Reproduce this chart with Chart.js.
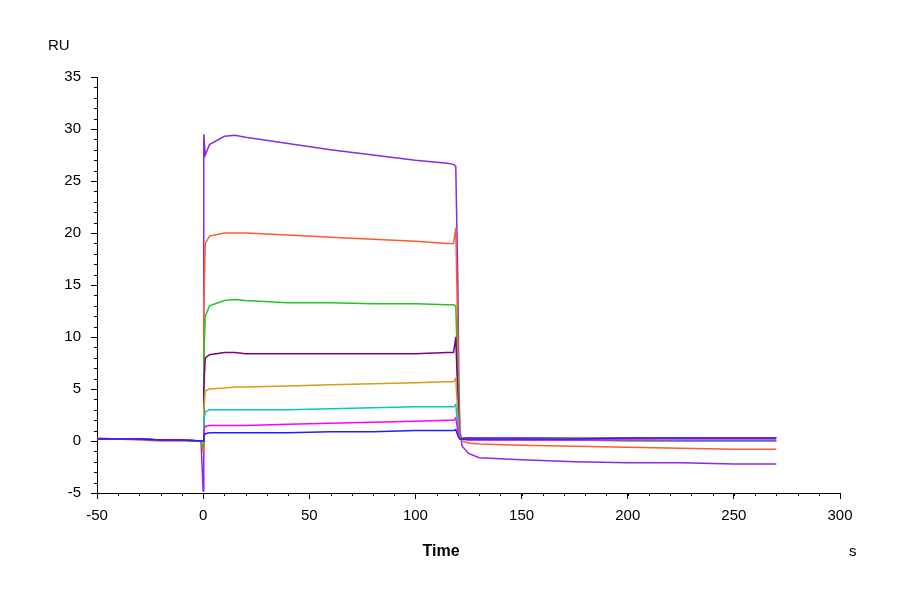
<!DOCTYPE html>
<html><head><meta charset="utf-8">
<script src="https://cdn.jsdelivr.net/npm/chart.js@4"></script>
<style>html,body{margin:0;padding:0;background:#fff}#w{width:900px;height:600px}</style>
</head><body><div id="w"><canvas id="c"></canvas></div>
<script>
const times = [-50,-40,-30,-20,-10,-1,0,0.3,1,3,10,15,20,40,60,80,100,115,118,119,120,120.5,121,122,125,130,150,175,200,225,250,270];
const pre = [0.2,0.2,0.2,0.1,0.1,0];
const purple = [...pre,-4.8,29.5,27.5,28.5,29.3,29.4,29.2,28.6,28,27.5,27,26.7,26.6,26.4,15,5,1,-0.5,-1.2,-1.6,-1.8,-2,-2.1,-2.1,-2.2,-2.2];
const orange = [0.3,0.2,0.1,0,0,0,-1,13,19,19.7,20,20,20,19.8,19.6,19.4,19.2,19,19,20.5,10,2,0.5,0,-0.2,-0.3,-0.4,-0.5,-0.6,-0.7,-0.8,-0.8];
const green = [...pre,-0.5,8,12,13,13.5,13.6,13.5,13.3,13.3,13.2,13.2,13.1,13.1,13,6,1.5,0.5,0.3,0.3,0.2,0.1,0.1,0,0,0,0];
const darkPurple = [...pre,0,5,8,8.3,8.5,8.5,8.4,8.4,8.4,8.4,8.4,8.5,8.5,10,4,1,0.4,0.3,0.3,0.3,0.3,0.3,0.3,0.3,0.3,0.3];
const gold = [...pre,0,3,4.8,5,5.1,5.2,5.2,5.3,5.4,5.5,5.6,5.7,5.7,6,2.5,0.8,0.3,0.3,0.2,0.2,0.2,0.3,0.3,0.3,0.3,0.3];
const cyan = [...pre,0,2,2.8,3,3,3,3,3,3.1,3.2,3.3,3.3,3.3,3.5,1.5,0.5,0.2,0.2,0.1,0.1,0.1,0.1,0.1,0,0,0];
const magenta = [...pre,0,1,1.4,1.5,1.5,1.5,1.5,1.6,1.7,1.8,1.9,2,2,2.2,1,0.4,0.2,0.2,0.1,0.1,0.1,0.1,0.1,0.1,0.1,0.1];
const blue = [...pre,0,0.5,0.7,0.8,0.8,0.8,0.8,0.8,0.9,0.9,1,1,1,1.1,0.5,0.3,0.2,0.2,0.2,0.2,0.2,0.2,0.3,0.3,0.3,0.3];
const series = [[blue,'#1f1fff'],[magenta,'#ff00ff'],[cyan,'#00c8c8'],[gold,'#d4a017'],[darkPurple,'#800080'],[green,'#22c422'],[orange,'#ff5a30'],[purple,'#8a2be2']];
const minor = {id:'minor',afterDraw(ch){const c=ch.ctx,x=ch.scales.x,y=ch.scales.y;c.save();c.strokeStyle='#000';c.lineWidth=1;
 for(let v=-50;v<=300;v+=10){const p=Math.round(x.getPixelForValue(v))+0.5;c.beginPath();c.moveTo(p,y.bottom);c.lineTo(p,y.bottom+3);c.stroke();}
 for(let v=-5;v<=35;v+=1){const p=Math.round(y.getPixelForValue(v))+0.5;c.beginPath();c.moveTo(x.left-3,p);c.lineTo(x.left,p);c.stroke();}
 c.fillStyle='#000';c.font='15px Arial, "Liberation Sans"';c.fillText('RU',48,50);c.fillText('s',849,556);
 c.font='bold 16px Arial, "Liberation Sans"';c.textAlign='center';c.fillText('Time',441,556);c.restore();}};
const tf={size:15,family:'Arial, "Liberation Sans"'};
new Chart(document.getElementById('c'),{type:'line',
 data:{datasets:series.map(([d,col])=>({data:times.map((t,i)=>({x:t,y:d[i]})),borderColor:col,borderWidth:1.5,pointRadius:0,tension:0}))},
 options:{responsive:true,maintainAspectRatio:false,animation:false,layout:{padding:{top:77,right:60,left:0,bottom:0}},
 plugins:{legend:{display:false},tooltip:{enabled:false}},
 scales:{x:{type:'linear',min:-50,max:300,afterFit(s){s.height=107;},grid:{drawOnChartArea:false,color:'#000',tickLength:6},border:{color:'#000'},ticks:{stepSize:50,color:'#000',padding:8,font:tf}},
 y:{min:-5,max:35,afterFit(s){s.width=97;},grid:{drawOnChartArea:false,color:'#000',tickLength:6},border:{color:'#000'},ticks:{stepSize:5,color:'#000',padding:10,font:tf}}}},
 plugins:[minor]});
</script></body></html>
